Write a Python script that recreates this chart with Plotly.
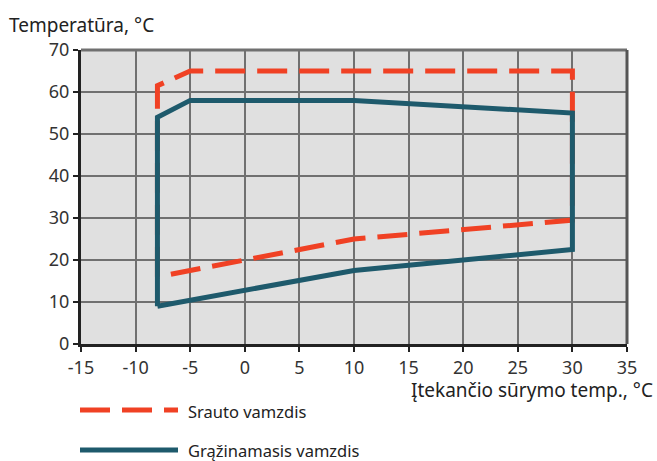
import plotly.graph_objects as go

# Data
flow_x = [-8, -8, -5, 30, 30, 10, -8]
flow_y = [16, 61.5, 65, 65, 29.5, 25, 16]
ret_x = [-8, -8, -5, 10, 30, 30, 10, -8]
ret_y = [9, 54, 58, 58, 55, 22.5, 17.5, 9]

x_ticks = list(range(-15, 36, 5))
x_tick_text = ["-15", "-10", "-5", "0", "5", "10", "15", "20", "25", "30", "35"]
y_ticks = list(range(0, 71, 10))

RED = "#f04124"
TEAL = "#1e5a6c"
FONT = "Noto Sans"

fig = go.Figure()
fig.add_trace(go.Scatter(x=flow_x, y=flow_y, mode="lines",
                         line=dict(color=RED, width=5, dash="30px,12px"), showlegend=False))
fig.add_trace(go.Scatter(x=ret_x, y=ret_y, mode="lines",
                         line=dict(color=TEAL, width=5), showlegend=False))

L, R, T, B = 81, 30, 50, 117
W, H = 657, 461
pw = W - L - R
ph = H - T - B

def px_x(p):
    return (p - L) / pw

def px_y(p):
    return (H - B - p) / ph

fig.update_layout(
    width=W, height=H,
    margin=dict(l=L, r=R, t=T, b=B),
    paper_bgcolor="white",
    plot_bgcolor="#e0e0e0",
    font=dict(family=FONT, size=18, color="#333"),
    xaxis=dict(range=[-15, 35], tickvals=x_ticks, ticktext=x_tick_text, showgrid=True,
               gridcolor="#707070", gridwidth=1.5, zeroline=False, showline=True,
               linecolor="#222", linewidth=3, ticks="outside", ticklen=5,
               tickcolor="#222", tickwidth=2),
    yaxis=dict(range=[0, 70], tickvals=y_ticks, showgrid=True, gridcolor="#707070",
               gridwidth=1.5, zeroline=False, showline=True, linecolor="#222", linewidth=3,
               ticks="outside", ticklen=5, tickcolor="#222", tickwidth=2),
    showlegend=False,
)

# top and right border (gray)
fig.add_shape(type="line", xref="paper", yref="paper", x0=0, x1=1, y0=1, y1=1,
              line=dict(color="#707070", width=3))
fig.add_shape(type="line", xref="paper", yref="paper", x0=1, x1=1, y0=0, y1=1,
              line=dict(color="#555", width=3))

# axis titles
fig.add_annotation(text="Temperatūra, °C", xref="paper", yref="paper",
                   x=px_x(7), y=px_y(25), xanchor="left", yanchor="middle",
                   showarrow=False, font=dict(size=19, color="#222"))
fig.add_annotation(text="Įtekančio sūrymo temp., °C", xref="paper", yref="paper",
                   x=px_x(655), y=px_y(390), xanchor="right", yanchor="middle",
                   showarrow=False, font=dict(size=19, color="#222"))

# legend
fig.add_shape(type="line", xref="paper", yref="paper", x0=px_x(80), x1=px_x(178),
              y0=px_y(410), y1=px_y(410), line=dict(color=RED, width=5, dash="30px,12px"))
fig.add_shape(type="line", xref="paper", yref="paper", x0=px_x(80), x1=px_x(178),
              y0=px_y(450), y1=px_y(450), line=dict(color=TEAL, width=5))
fig.add_annotation(text="Srauto vamzdis", xref="paper", yref="paper",
                   x=px_x(186), y=px_y(411), xanchor="left", yanchor="middle",
                   showarrow=False, font=dict(size=16.5, color="#222"))
fig.add_annotation(text="Grąžinamasis vamzdis", xref="paper", yref="paper",
                   x=px_x(186), y=px_y(450), xanchor="left", yanchor="middle",
                   showarrow=False, font=dict(size=16.5, color="#222"))

fig.write_html("out.html", config={"displayModeBar": False},
               post_script="document.body.style.margin='0';")
